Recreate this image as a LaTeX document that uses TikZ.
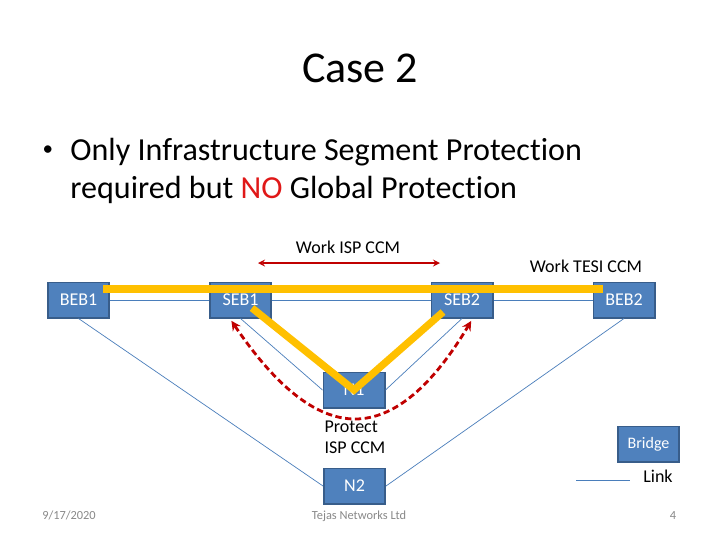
\documentclass[tikz,border=0pt]{standalone}
\usepackage{fontspec}
\setmainfont{Carlito}[Ligatures = NoCommon]
\usetikzlibrary{arrows}

\definecolor{boxblue}{HTML}{4F81BD}
\definecolor{boxedge}{HTML}{385D8A}
\definecolor{linkblue}{HTML}{4A7EBB}
\definecolor{ccmyellow}{HTML}{FFC000}
\definecolor{protred}{HTML}{C00000}
\definecolor{nored}{HTML}{E01818}
\definecolor{footgray}{HTML}{898989}

\begin{document}
\begin{tikzpicture}[
                > = stealth, % arrow head style
                x = 0.025cm, y = -0.025cm, % one unit is one pixel of the slide
                semithick % line style
            ]

            \tikzstyle{bridge}=[draw = boxedge, fill = boxblue, line width = 1.4pt,
            text = white, minimum width = 43.4pt, minimum height = 24.9pt,
            inner sep = 0pt, font = \fontsize{12.8}{15}\selectfont]
            \tikzstyle{txt}=[inner sep = 0pt, font = \fontsize{12.8}{15}\selectfont]
            \tikzstyle{foot}=[inner sep = 0pt, text = footgray,
            font = \fontsize{8.8}{10}\selectfont]
            \tikzstyle{link}=[draw = linkblue, line width = 0.5pt]
            \tikzstyle{ccm}=[draw = ccmyellow, line width = 5.2pt]
            \tikzstyle{protect}=[draw = protred, line width = 2pt,
            dash pattern = on 4.5pt off 2.5pt, <->]
            \tikzstyle{isp}=[draw = protred, line width = 1.2pt, <->]

            \fill[white] (0,0) rectangle (720,540);
            \useasboundingbox (0,0) rectangle (720,540);

            % slide text
            \node[txt, anchor = base, font = \fontsize{31.3}{37}\selectfont] (title)
            at (360,82) {Case 2};
            \node[txt, font = \fontsize{15}{18}\selectfont] (dot)
            at (48,151) {•};
            \node[txt, anchor = base west, font = \fontsize{22.8}{27}\selectfont]
            (line1) at (70,160) {Only Infrastructure Segment Protection};
            \node[txt, anchor = base west, font = \fontsize{22.8}{27}\selectfont]
            (line2) at (70,198) {required but \textcolor{nored}{NO} Global Protection};

            % bridges
            \node[bridge] (BEB1) at (78.5,300) {BEB1}; \node[bridge] (SEB1) at
            (240.5,300) {SEB1}; \node[bridge] (SEB2) at (462,300) {SEB2};
            \node[bridge] (BEB2) at (624,300) {BEB2}; \node[bridge] (N1) at
            (354,390) {N1}; \node[bridge] (N2) at (354.5,486) {N2};
            \node[bridge, font = \fontsize{11.4}{14}\selectfont] (key) at
            (648.5,444) {Bridge};

            % links
            \path[link] (BEB1) edge (SEB1); \path[link] (SEB1) edge (SEB2);
            \path[link] (SEB2) edge (BEB2); \path[link] (BEB1.south) edge (N2.west);
            \path[link] (SEB1.south) edge (N1.west); \path[link] (SEB2.south) edge
            (N1.east); \path[link] (BEB2.south) edge (N2.east);

            % CCM paths
            \coordinate (wl) at (103,289); \coordinate (wr) at (603,289);
            \coordinate (va) at (252,308); \coordinate (vb) at (443,312);
            \coordinate (ia) at (258,263); \coordinate (ib) at (440,263);
            \coordinate (pbot) at (355,419);
            \draw[ccm] (wl) -- (wr);
            \draw[ccm] (va) -- (N1.center) -- (vb);
            \draw[isp] (ia) -- (ib);
            \draw[protect, shorten < = 2pt, shorten > = 2pt] (SEB1.240)
            .. controls (275,385) and (315,419) .. (pbot)
            .. controls (395,419) and (433,385) .. (SEB2.300);

            \node[txt, anchor = base] (workisp) at (348,253) {Work ISP CCM};
            \node[txt, anchor = base] (worktesi) at (586,272) {Work TESI CCM};
            \node[txt, align = left] (protisp) at (355,437) {Protect\\ISP CCM};

            % legend
            \coordinate (lk1) at (576,480); \coordinate (lk2) at (630,480);
            \path[link] (lk1) edge (lk2);
            \node[txt] (linktxt) at (658,476) {Link};

            % footer
            \node[foot, anchor = base] (date) at (69,519) {9/17/2020};
            \node[foot, anchor = base] (company) at (359,519) {Tejas Networks Ltd};
            \node[foot, anchor = base] (page) at (673,519) {4};

        \end{tikzpicture}
\end{document}
